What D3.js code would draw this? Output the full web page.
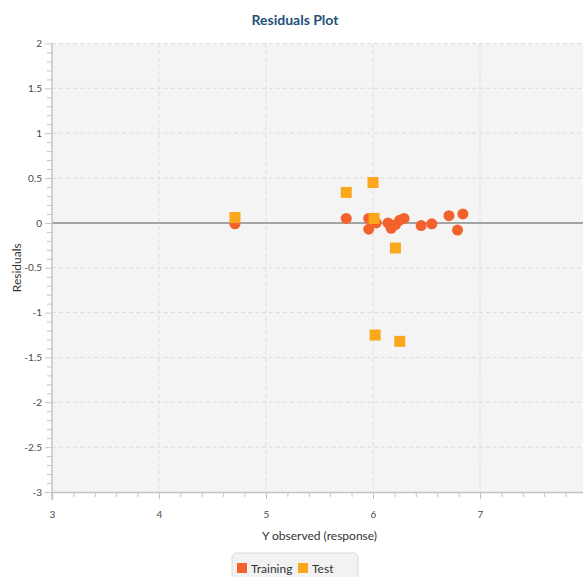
<!DOCTYPE html>
<html>
<head>
<meta charset="utf-8">
<script src="https://cdn.jsdelivr.net/npm/d3@7/dist/d3.min.js"></script>
<style>
  html, body { margin: 0; padding: 0; background: #fff; overflow: hidden; }
  svg { display: block; font-family: Lato, "Open Sans", sans-serif; }
</style>
</head>
<body>
<svg id="chart" width="583" height="577"></svg>
<script>
// Residuals of the training set (circles) and test set (squares)
const trainX = [4.71, 5.75, 5.96, 5.96, 6.03, 6.14, 6.17, 6.21, 6.25, 6.29, 6.45, 6.55, 6.71, 6.79, 6.84];
const trainY = [-0.01, 0.05, 0.05, -0.07, 0.00, 0.00, -0.06, -0.02, 0.03, 0.05, -0.03, -0.01, 0.08, -0.08, 0.10];
const testX = [4.71, 5.75, 6.00, 6.01, 6.21, 6.02, 6.25];
const testY = [0.06, 0.34, 0.45, 0.05, -0.28, -1.25, -1.32];

const xTicks = [3, 4, 5, 6, 7, 8];
const yTicks = [2, 1.5, 1, 0.5, 0, -0.5, -1, -1.5, -2, -2.5, -3];
const seriesNames = ["Training", "Test"];
const seriesColors = ["#f3622d", "#fba71b"];

const svg = d3.select("#chart");
const plot = { left: 52, right: 587, top: 43.5, bottom: 492 };

const x = d3.scaleLinear().domain([3, 8]).range([plot.left, plot.right]);
const y = d3.scaleLinear().domain([-3, 2]).range([plot.bottom, plot.top]);

// plain hyphen for negatives, as in the axis labels
const numFmt = d => String(d);

// plot background
svg.append("rect")
  .attr("x", plot.left).attr("y", plot.top)
  .attr("width", plot.right - plot.left).attr("height", plot.bottom - plot.top)
  .attr("fill", "#f4f4f4");

// dashed grid
svg.append("g").selectAll("line").data(xTicks.filter(d => d > 3)).join("line")
  .attr("x1", d => x(d)).attr("x2", d => x(d))
  .attr("y1", plot.top).attr("y2", plot.bottom)
  .attr("stroke", "#dcdcdc").attr("stroke-dasharray", "4,3");
svg.append("g").selectAll("line").data(yTicks.filter(d => d !== 0 && d !== -3)).join("line")
  .attr("x1", plot.left).attr("x2", plot.right)
  .attr("y1", d => y(d)).attr("y2", d => y(d))
  .attr("stroke", "#dcdcdc").attr("stroke-dasharray", "4,3");

// zero reference line
svg.append("line")
  .attr("x1", plot.left).attr("x2", plot.right)
  .attr("y1", y(0)).attr("y2", y(0))
  .attr("stroke", "#a4a4a4").attr("stroke-width", 2);

// axes
const axisColor = "#c4c4c4";
const labelColor = "#4a4a4a";

const xMinor = d3.range(3, 8.001, 0.2).map(v => +v.toFixed(1)).filter(v => !xTicks.includes(v));
const yMinor = d3.range(-3, 2.001, 0.1).map(v => +v.toFixed(1)).filter(v => !yTicks.includes(v));

const xAxis = svg.append("g").attr("transform", `translate(0,${plot.bottom})`)
  .call(d3.axisBottom(x).tickValues(xTicks).tickFormat(numFmt).tickSize(7).tickPadding(12));
svg.append("g").attr("transform", `translate(0,${plot.bottom})`)
  .call(d3.axisBottom(x).tickValues(xMinor).tickFormat("").tickSize(5))
  .call(g => g.select(".domain").remove())
  .selectAll("line").attr("stroke", axisColor);

const yAxis = svg.append("g").attr("transform", `translate(${plot.left},0)`)
  .call(d3.axisLeft(y).tickValues(yTicks).tickFormat(numFmt).tickSize(7).tickPadding(3));
svg.append("g").attr("transform", `translate(${plot.left},0)`)
  .call(d3.axisLeft(y).tickValues(yMinor).tickFormat("").tickSize(5))
  .call(g => g.select(".domain").remove())
  .selectAll("line").attr("stroke", axisColor);

[xAxis, yAxis].forEach(g => {
  g.select(".domain").attr("stroke", axisColor).attr("stroke-width", 1.5);
  g.selectAll(".tick line").attr("stroke", axisColor);
  g.selectAll(".tick text").attr("fill", labelColor)
    .style("font-family", "Lato, sans-serif").style("font-size", "10px");
});
yAxis.select(".domain").attr("d", `M0,${plot.top}V${plot.bottom + 8}`);

// series
svg.append("g").selectAll("circle").data(d3.zip(trainX, trainY)).join("circle")
  .attr("cx", d => x(d[0])).attr("cy", d => y(d[1])).attr("r", 5.5)
  .attr("fill", seriesColors[0]);
const sq = 11;
svg.append("g").selectAll("rect").data(d3.zip(testX, testY)).join("rect")
  .attr("x", d => x(d[0]) - sq / 2).attr("y", d => y(d[1]) - sq / 2)
  .attr("width", sq).attr("height", sq)
  .attr("fill", seriesColors[1]);

// titles
svg.append("text")
  .attr("x", 295).attr("y", 25).attr("text-anchor", "middle")
  .attr("fill", "#1f5079").style("font-size", "14px").style("font-weight", "bold")
  .text("Residuals Plot");
svg.append("text")
  .attr("x", (plot.left + plot.right) / 2).attr("y", 540).attr("text-anchor", "middle")
  .attr("fill", "#333").style("font-size", "12px")
  .text("Y observed (response)");
svg.append("text")
  .attr("transform", `translate(21,${(plot.top + plot.bottom) / 2}) rotate(-90)`)
  .attr("text-anchor", "middle").attr("fill", "#333").style("font-size", "12px")
  .text("Residuals");

// legend
const legend = svg.append("g");
legend.append("rect")
  .attr("x", 232).attr("y", 553).attr("width", 126).attr("height", 34).attr("rx", 5)
  .attr("fill", "#f2f2f2").attr("stroke", "#d8d8d8");
const legendX = [237, 298];
seriesNames.forEach((name, i) => {
  legend.append("rect")
    .attr("x", legendX[i]).attr("y", 563).attr("width", 10).attr("height", 10)
    .attr("fill", seriesColors[i]);
  legend.append("text")
    .attr("x", legendX[i] + 14).attr("y", 572.5)
    .attr("fill", "#333").style("font-size", "12px")
    .text(name);
});
</script>
</body>
</html>
